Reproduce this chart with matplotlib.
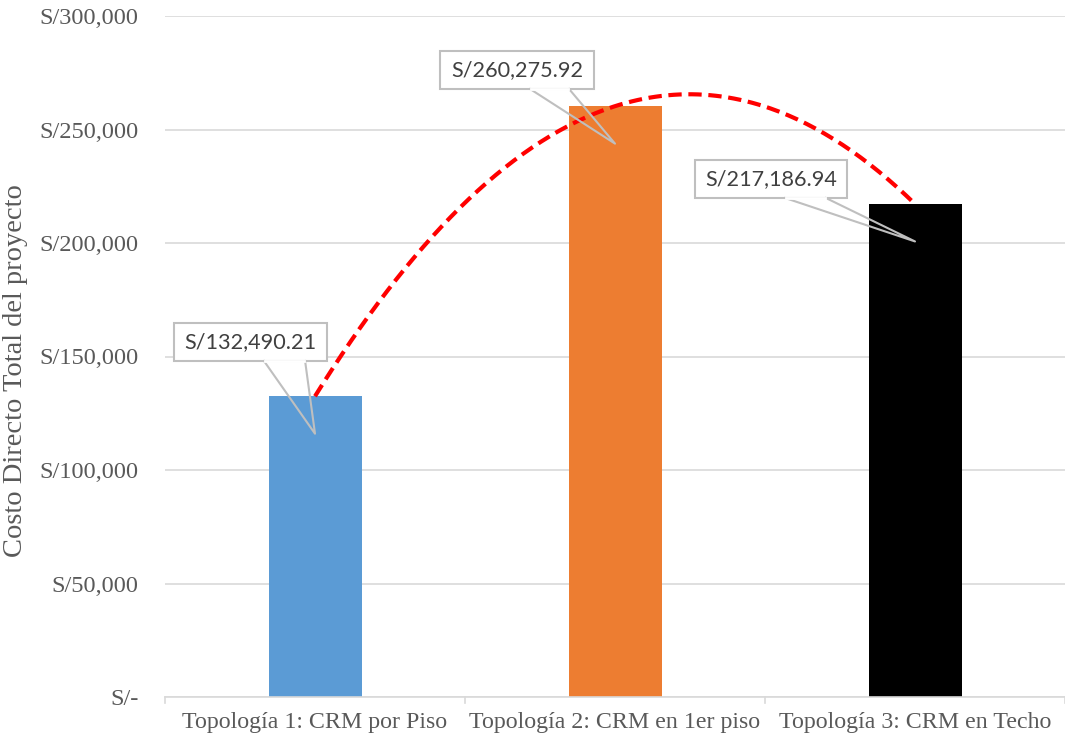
import numpy as np
import matplotlib
matplotlib.use("Agg")
import matplotlib.pyplot as plt
from matplotlib.patches import Rectangle
from matplotlib.lines import Line2D
from matplotlib.ticker import FuncFormatter

categories = ["Topología 1: CRM por Piso", "Topología 2: CRM en 1er piso", "Topología 3: CRM en Techo"]
values = [132490.21, 260275.92, 217186.94]
colors = ["#5B9BD5", "#ED7D31", "#000000"]
ylabel = "Costo Directo Total del proyecto"

W, H = 1065, 742
fig = plt.figure(figsize=(W / 100, H / 100), dpi=100)
ax = fig.add_axes([165 / W, (H - 697) / H, (1065 - 165) / W, (697 - 16) / H])

x = np.arange(len(categories))
ax.bar(x, values, width=0.31, color=colors, zorder=2)

ax.set_xlim(-0.5, len(categories) - 0.5)
ax.set_ylim(0, 300000)
ax.set_yticks(np.arange(0, 300001, 50000))
ax.yaxis.set_major_formatter(FuncFormatter(lambda v, p: "S/-" if v == 0 else f"S/{v:,.0f}"))
ax.grid(axis="y", color="#D9D9D9", linewidth=1.2, zorder=0)
ax.set_axisbelow(True)
for s in ["left", "right", "top"]:
    ax.spines[s].set_visible(False)
ax.spines["bottom"].set_color("#D9D9D9")
ax.spines["bottom"].set_linewidth(1.2)
ax.tick_params(axis="y", length=0, pad=19, labelsize=17.6, labelcolor="#595959")
ax.set_xticks(x)
ax.set_xticklabels(categories)
ax.tick_params(axis="x", length=0, pad=11, labelsize=17.2, labelcolor="#595959")
for b in np.arange(-0.5, len(categories), 1.0):
    ax.plot([b, b], [0, -0.009], transform=ax.get_xaxis_transform(), color="#D9D9D9",
            lw=1.2, clip_on=False)
for lab in ax.get_xticklabels() + ax.get_yticklabels():
    lab.set_fontfamily("Liberation Serif")
ax.set_ylabel(ylabel, fontfamily="Liberation Serif", fontsize=20.5, color="#595959")
ax.yaxis.set_label_coords(-0.152, 0.48)

# polynomial (order 2) trendline through the bar values
coef = np.polyfit(x, values, 2)
xt = np.linspace(x[0], x[-1], 200)
ax.plot(xt, np.polyval(coef, xt), color="#FF0000", lw=3.0, linestyle=(0, (3.2, 1.6)), zorder=3)

# callout data labels (box offsets in data units relative to bar)
box_dx = [(-0.47, 0.04), (-0.583, -0.07), (-0.733, -0.227)]
box_top = [164758, 284581, 236564]
box_h = 16740
base = [(-0.17, -0.033), (-0.283, -0.153), (-0.433, -0.297)]
tip_drop = 16500
for i, v in enumerate(values):
    x0, x1 = x[i] + box_dx[i][0], x[i] + box_dx[i][1]
    y1 = box_top[i]
    y0 = y1 - box_h
    ax.add_patch(Rectangle((x0, y0), x1 - x0, box_h, facecolor="white", edgecolor="#BFBFBF",
                           lw=1.5, zorder=4))
    bl, br = x[i] + base[i][0], x[i] + base[i][1]
    tipx, tipy = x[i], v - tip_drop
    ax.add_line(Line2D([bl, tipx, br], [y0, tipy, y0], color="#BFBFBF", lw=1.5, zorder=5))
    ax.add_line(Line2D([bl + 0.004, br - 0.004], [y0, y0], color="white", lw=2.0, zorder=5))
    ax.text((x0 + x1) / 2, (y0 + y1) / 2, f"S/{v:,.2f}", ha="center", va="center",
            fontsize=15.6, color="#404040", fontfamily="Lato", zorder=6)

fig.savefig("out.png", dpi=100)
